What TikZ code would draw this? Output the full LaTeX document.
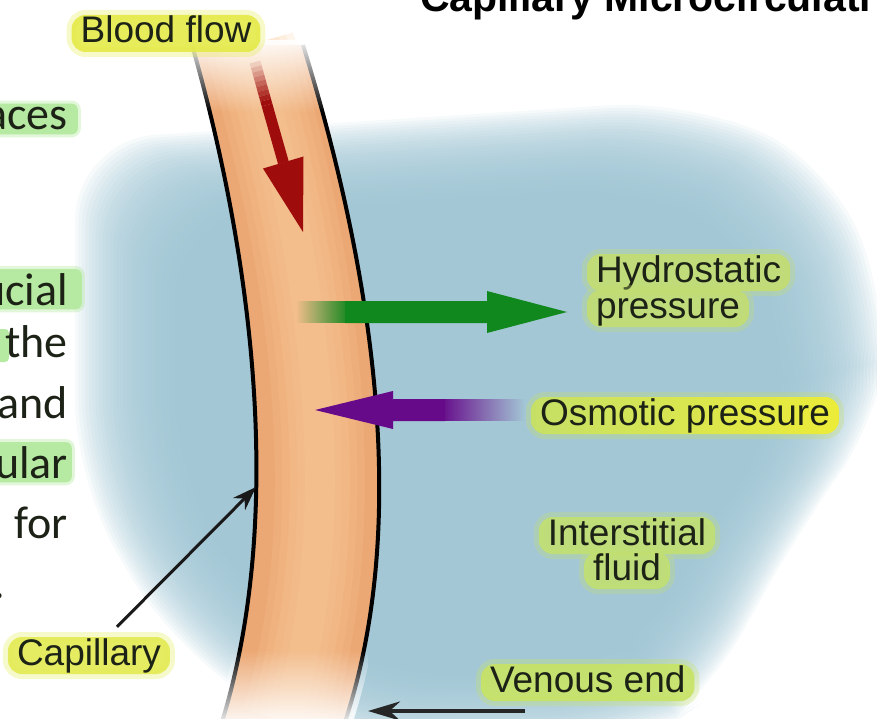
\documentclass[tikz,border=0pt]{standalone}
\usepackage{fontspec}
\setmainfont{Liberation Sans}
\newfontfamily\slidefont{Carlito}
\usetikzlibrary{positioning,arrows.meta,calc,fadings}

\definecolor{fluid}{RGB}{158,196,211}
\definecolor{tube}{RGB}{236,168,116}
\definecolor{tubelight}{RGB}{250,204,156}
\definecolor{blood}{RGB}{158,12,12}
\definecolor{hydro}{RGB}{16,136,30}
\definecolor{osmo}{RGB}{102,10,138}
\definecolor{ink}{RGB}{28,34,22}
\definecolor{flowglow}{RGB}{228,234,72}
\definecolor{capglow}{RGB}{226,234,80}
\definecolor{hydglow}{RGB}{196,222,112}
\definecolor{osmglow}{RGB}{198,224,102}
\definecolor{osmyellow}{RGB}{236,236,56}
\definecolor{intglow}{RGB}{194,224,112}
\definecolor{venglow}{RGB}{200,228,100}
\definecolor{leafglow}{RGB}{182,234,162}

\newcommand\lblfont{\fontsize{37bp}{36bp}\selectfont}
\newcommand\slidetext{\slidefont\fontsize{46bp}{52bp}\selectfont}
\newcommand\titlefont{\bfseries\fontsize{41bp}{44bp}\selectfont}

\begin{document}
\begin{tikzpicture}[
  x=1bp, y=-1bp,
  lbl/.style={font=\lblfont, text=ink, inner xsep=9bp, inner ysep=1bp,
              text height=27bp, text depth=8bp, rounded corners=14bp},
  glow/.style={lbl, fill=#1, fill opacity=0.9, text opacity=1,
               preaction={draw=#1, line width=10bp, opacity=0.3}},
  leaf/.style={font=\slidetext, text=ink, inner xsep=0pt, inner ysep=4bp, anchor=base east},
  leafhl/.style={leaf, inner xsep=#1, fill=leafglow, rounded corners=6bp,
                 preaction={draw=leafglow, line width=6bp, opacity=0.4}},
  wall/.style={line width=4bp, black},
  pointer/.style={line width=3bp, black!90, -{Stealth[length=24bp,width=17bp]}}
]
  \useasboundingbox (0,0) rectangle (877,719);
  \clip (0,0) rectangle (877,719);

  % --- interstitial space, soft edged
  \foreach \k [evaluate=\k as \f using 1-0.0085*\k] in {0,...,29}
    \fill[fluid, opacity=0.09, rounded corners=80bp, scale around={\f:(480,450)}]
      (75,140) -- (690,100) -- (835,165) -- (890,320) -- (886,410) -- (805,520)
      -- (705,700) -- (645,745) -- (330,750) -- (170,645) -- (75,480) -- cycle;

  % --- capillary tube
  \fill[tube] (192,45) .. controls (245,230) and (290,500) .. (222,722)
    -- (345,722) .. controls (418,500) and (360,230) .. (303,45) -- cycle;
  \foreach \w in {90,75,60,45,30}
    \draw[tubelight, line width=\w bp, opacity=0.18]
      (250,45) .. controls (304,230) and (356,500) .. (286,722);
  \draw[wall] (192,45) .. controls (245,230) and (290,500) .. (222,722);
  \draw[wall] (303,45) .. controls (360,230) and (418,500) .. (345,722);
  \begin{scope}
    \clip (185,40) .. controls (238,230) and (283,500) .. (215,725)
      -- (352,725) .. controls (425,500) and (367,230) .. (310,40) -- cycle;
    \fill[white, path fading=south] (178,36) rectangle (340,112);
    \fill[white, path fading=north] (195,650) rectangle (368,728);
  \end{scope}

  % --- blood flow arrow
  \coordinate (rs) at (255,62);
  \coordinate (rf) at (267,105);
  \coordinate (rb) at (283.4,162.7);
  \foreach \k [evaluate=\k as \a using \k/9, evaluate=\k as \b using (\k+1)/9] in {0,...,8}
    \draw[blood, line width=11bp, opacity=\b] ($(rs)!\a!(rf)$) -- ($(rs)!\b!(rf)$);
  \draw[blood, line width=11bp] (rf) -- (rb);
  \fill[blood] (303.5,156.5) -- (303,232) -- (263,168.5) -- cycle;

  % --- pressure arrows
  \fill[hydro, path fading=west] (296,301) rectangle (350,323);
  \fill[hydro] (345,301) -- (487,301) -- (487,291) -- (567,312) -- (487,333)
    -- (487,323) -- (345,323) -- cycle;
  \fill[osmo, path fading=east] (440,399) rectangle (525,421);
  \fill[osmo] (315,410) -- (393,391) -- (393,399) -- (445,399) -- (445,421)
    -- (393,421) -- (393,429) -- cycle;

  % --- labels
  \node[glow=flowglow, anchor=base] (flow) at (166,43) {Blood flow};
  \node[glow=hydglow, anchor=text] (hydro1) at (596,282) {Hydrostatic};
  \node[glow=hydglow, anchor=text] (hydro2) at ([yshift=-36bp]hydro1.text) {pressure};
  \node[lbl, anchor=text, left color=osmglow, right color=osmyellow,
        preaction={draw=osmglow, line width=10bp, opacity=0.3}] (osmotic) at (540,425) {Osmotic pressure};
  \node[glow=intglow, anchor=base] (inter1) at (627,545) {Interstitial};
  \node[glow=intglow, anchor=base] (inter2) at ([yshift=-35bp]inter1.base) {fluid};
  \node[glow=venglow, anchor=text] (venous) at (490,692) {Venous end};
  \node[glow=capglow, anchor=text] (capl) at (17,665) {Capillary};

  \coordinate (capwall) at (256,487);
  \draw[pointer] ([xshift=28bp,yshift=10bp]capl.north) -- (capwall);
  \coordinate (ventail) at (525,711);
  \coordinate (ventip) at (368,711);
  \draw[pointer, line width=4bp, black!85, -{Stealth[length=32bp,width=19bp]}] (ventail) -- (ventip);

  % --- slide text running in from the left
  \fill[leafglow, rounded corners=4bp] (-6,329) rectangle (9,362);
  \node[leafhl=10bp] (aces) at (78,130) {aces};
  \node[leafhl=14bp] (ucial) at (82,305) {ucial};
  \node[leaf] (the) at (68,357) {the};
  \node[leaf] (and) at (68,418) {and};
  \node[leafhl=4bp] (ular) at (72,478) {ular};
  \node[leaf] (for) at (68,538) {for};
  \node[leaf] (dot) at (5,598) {.};

  \node[font=\titlefont, anchor=text, inner sep=0pt] (title) at (420,12) {Capillary Microcirculati};
\end{tikzpicture}
\end{document}
